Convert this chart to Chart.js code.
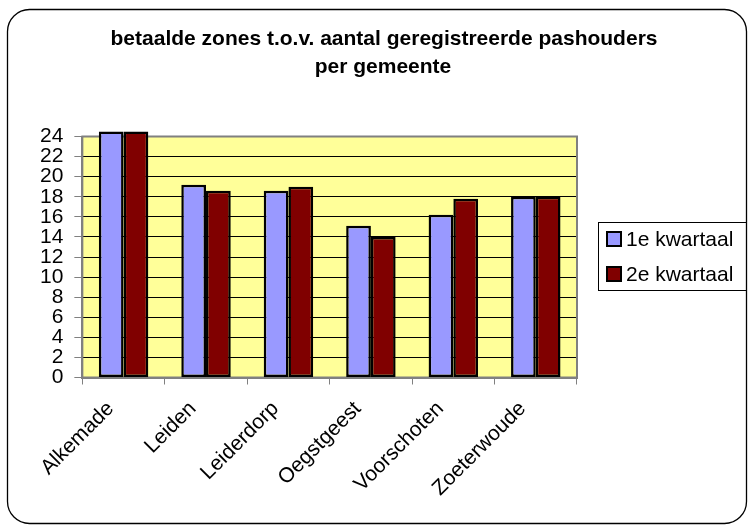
<!DOCTYPE html>
<html><head><meta charset="utf-8">
<script src="https://cdn.jsdelivr.net/npm/chart.js@4.4.0/dist/chart.umd.min.js"></script>
<style>html,body{margin:0;padding:0;background:#fff;} #wrap{position:relative;width:752px;height:525px;}</style>
</head><body><div id="wrap"><canvas id="c" width="752" height="525"></canvas></div>
<script>
const categories = ['Alkemade', 'Leiden', 'Leiderdorp', 'Oegstgeest', 'Voorschoten', 'Zoeterwoude'];
const kwartaal1 = [24.5, 19.2, 18.6, 15.1, 16.2, 18.0];
const kwartaal2 = [24.5, 18.6, 19.0, 14.0, 17.8, 18.0];
const seriesNames = ['1e kwartaal', '2e kwartaal'];
const seriesColors = ['#9999FF', '#800000'];
const titleLines = ['betaalde zones t.o.v. aantal geregistreerde pashouders', 'per gemeente'];
const yMin = 0, yMax = 24, yStep = 2;

const FONT = "'Liberation Sans', Arial, sans-serif";

const framePlugin = {
  id: 'frame',
  beforeDraw(chart) {
    const ctx = chart.ctx, a = chart.chartArea;
    ctx.save();
    ctx.fillStyle = '#fff';
    ctx.fillRect(0, 0, chart.width, chart.height);
    const x0 = 7.5, y0 = 9.5, x1 = 746.5, y1 = 523.5, r = 22;
    ctx.beginPath();
    ctx.moveTo(x0 + r, y0);
    ctx.lineTo(x1 - r, y0);
    ctx.arcTo(x1, y0, x1, y0 + r, r);
    ctx.lineTo(x1, y1 - r);
    ctx.arcTo(x1, y1, x1 - r, y1, r);
    ctx.lineTo(x0 + r, y1);
    ctx.arcTo(x0, y1, x0, y1 - r, r);
    ctx.lineTo(x0, y0 + r);
    ctx.arcTo(x0, y0, x0 + r, y0, r);
    ctx.closePath();
    ctx.strokeStyle = '#000';
    ctx.lineWidth = 1.3;
    ctx.stroke();
    ctx.fillStyle = '#FFFF99';
    ctx.fillRect(a.left, a.top, a.right - a.left, a.bottom - a.top);
    ctx.fillStyle = '#000';
    ctx.font = 'bold 21px ' + FONT;
    ctx.textAlign = 'center';
    ctx.textBaseline = 'alphabetic';
    ctx.fillText(titleLines[0], 384, 45);
    ctx.fillText(titleLines[1], 383, 72.5);
    ctx.restore();
  },
  beforeDatasetsDraw(chart) {
    const ctx = chart.ctx, a = chart.chartArea;
    ctx.save();
    ctx.strokeStyle = '#808080';
    ctx.lineWidth = 2;
    ctx.strokeRect(a.left, a.top, a.right - a.left, a.bottom - a.top);
    ctx.restore();
  },
  afterDraw(chart) {
    const ctx = chart.ctx;
    const bx = 598.5, by = 222.5, bw = 148, bh = 68;
    ctx.save();
    ctx.strokeStyle = '#000';
    ctx.lineWidth = 1;
    ctx.strokeRect(bx, by, bw, bh);
    const rows = [239, 274];
    chart.data.datasets.forEach((ds, i) => {
      const cy = rows[i];
      ctx.fillStyle = ds.backgroundColor;
      ctx.fillRect(607, cy - 7, 14, 14);
      ctx.strokeStyle = '#000';
      ctx.lineWidth = 2;
      ctx.strokeRect(607, cy - 7, 14, 14);
      ctx.fillStyle = '#000';
      ctx.font = '21px ' + FONT;
      ctx.textAlign = 'left';
      ctx.textBaseline = 'middle';
      ctx.fillText(ds.label, 626, cy + 1);
    });
    ctx.restore();
  }
};

new Chart(document.getElementById('c'), {
  type: 'bar',
  data: {
    labels: categories,
    datasets: [
      { label: seriesNames[0], data: kwartaal1, backgroundColor: seriesColors[0], borderColor: '#000', borderWidth: 2.5, borderSkipped: false, clip: false },
      { label: seriesNames[1], data: kwartaal2, backgroundColor: seriesColors[1], borderColor: '#000', borderWidth: 2.5, borderSkipped: false, clip: false }
    ]
  },
  options: {
    responsive: false,
    animation: false,
    devicePixelRatio: 1,
    categoryPercentage: 0.6,
    barPercentage: 1.0,
    layout: { padding: { left: 29, right: 175, top: 136.5, bottom: 15 } },
    plugins: {
      legend: { display: false },
      tooltip: { enabled: false },
      title: { display: false }
    },
    scales: {
      x: {
        offset: true,
        afterFit(scale) { scale.height -= 3; },
        grid: { display: true, drawOnChartArea: false, drawTicks: true, tickLength: 7, tickColor: '#808080', offset: true },
        border: { display: true, color: '#808080', width: 2 },
        ticks: {
          color: '#000', font: { family: FONT, size: 21 },
          maxRotation: 45, minRotation: 45, autoSkip: false, padding: 12, labelOffset: -13
        }
      },
      y: {
        min: yMin, max: yMax,
        grid: { color: '#000', lineWidth: 1, drawTicks: true, tickLength: 8, tickColor: '#808080' },
        border: { display: true, color: '#808080', width: 2 },
        ticks: { stepSize: yStep, autoSkip: false, color: '#000', font: { family: FONT, size: 21 }, padding: 11 }
      }
    }
  },
  plugins: [framePlugin]
});
</script>
</body></html>
